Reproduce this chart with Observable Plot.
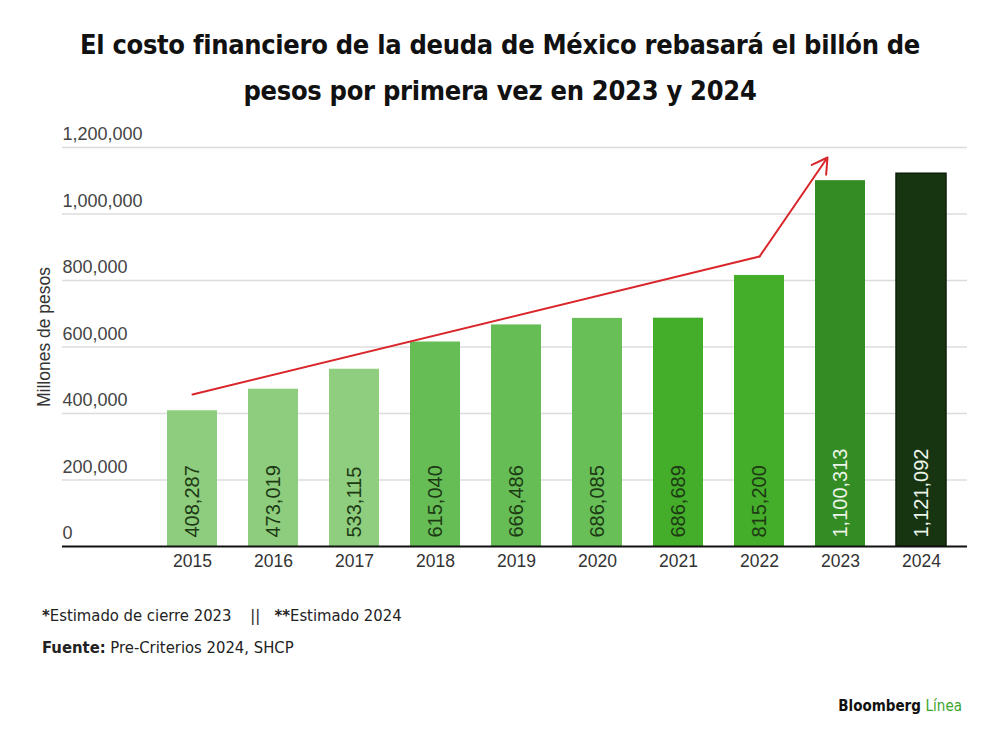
<!DOCTYPE html>
<html>
<head>
<meta charset="utf-8">
<script src="https://cdn.jsdelivr.net/npm/d3@7"></script>
<script src="https://cdn.jsdelivr.net/npm/@observablehq/plot@0.6"></script>
<style>
  html, body { margin: 0; padding: 0; background: #fff; width: 1000px; height: 745px; overflow: hidden; }
  body { position: relative; font-family: "Liberation Sans", Arial, sans-serif; }
  #title { position: absolute; left: 0; top: 22px; width: 1000px; text-align: center;
    font-family: "DejaVu Sans Condensed", "DejaVu Sans", sans-serif; font-stretch: condensed; font-weight: bold;
    font-size: 27px; line-height: 46px; color: #111; letter-spacing: -0.3px; }
  #chart { position: absolute; left: 0; top: 120px; }
  .foot { position: absolute; left: 42px; font-family: "DejaVu Sans Condensed", "DejaVu Sans", sans-serif; font-stretch: condensed;
    font-size: 16.5px; color: #222; }
  #note { top: 606px; }
  #src { top: 638px; }
  #logo { position: absolute; right: 38px; top: 697px; font-family: "DejaVu Sans Condensed", "DejaVu Sans", sans-serif; font-stretch: condensed;
    font-weight: bold; font-size: 15px; color: #111; }
  #logo span { color: #3aa52b; font-weight: normal; }
</style>
</head>
<body>
<div id="title">El costo financiero de la deuda de México rebasará el billón de<br>pesos por primera vez en 2023 y 2024</div>
<div id="chart"></div>
<div class="foot" id="note"><b>*</b>Estimado de cierre 2023 &nbsp;&nbsp; || &nbsp;&nbsp;<b>**</b>Estimado 2024</div>
<div class="foot" id="src"><b>Fuente:</b> Pre-Criterios 2024, SHCP</div>
<div id="logo">Bloomberg <span>Línea</span></div>
<script>
const years = ["2015","2016","2017","2018","2019","2020","2021","2022","2023","2024"];
const costs = [408287, 473019, 533115, 615040, 666486, 686085, 686689, 815200, 1100313, 1121092];
const barColors = ["#8dcd7d","#8dcd7d","#8fce7f","#66bd55","#66bd55","#68bf58","#44ad2a","#44ad2a","#348c24","#183512"];
const yTicks = [0, 200000, 400000, 600000, 800000, 1000000, 1200000];
const lightLabelYears = ["2023","2024"];
const trendYears = ["2015","2022"];
const trendValues = [457000, 872000];
const arrowFrom = {year: "2022", value: 872000};
const arrowTo = {year: "2023", value: 1227000};
const yLabel = "Millones de pesos";

const data = years.map((year, i) => ({year, value: costs[i]}));
const trend = trendYears.map((year, i) => ({year, value: trendValues[i]}));
const fmt = d3.format(",");

const chart = Plot.plot({
  width: 1000,
  height: 460,
  marginTop: 27,
  marginBottom: 34,
  marginLeft: 62,
  marginRight: 33,
  x: {domain: years, range: [165, 947], paddingInner: 0.385, paddingOuter: 0, label: null, axis: null},
  y: {domain: [0, 1200000], label: null, axis: null},
  color: {domain: years, range: barColors},
  style: {fontFamily: "Liberation Sans, Arial, sans-serif", background: "#fff"},
  marks: [
    Plot.ruleY(yTicks.filter(d => d > 0), {stroke: "#dcdcdc", strokeWidth: 1.5}),
    Plot.text(yTicks, {y: d => d, text: d => fmt(d), frameAnchor: "left", textAnchor: "start", dy: -13, fontSize: 18, fill: "#444"}),
    Plot.text([yLabel], {text: d => d, frameAnchor: "left", textAnchor: "middle", rotate: -90, dx: -18, dy: -10, fontSize: 17.5, fill: "#333"}),
    Plot.barY(data, {x: "year", y: "value", fill: "year"}),
    Plot.barY(data.filter(d => d.year === "2024"), {x: "year", y: "value", fill: "none", stroke: "#0d1f08", strokeWidth: 1.5}),
    Plot.text(data, {x: "year", y: 0, text: d => fmt(d.value), rotate: -90, textAnchor: "start", dy: -9, fontSize: 20,
      fill: d => lightLabelYears.includes(d.year) ? "#eef5ea" : "#1d3a14"}),
    Plot.ruleY([0], {stroke: "#111", strokeWidth: 2}),
    Plot.axisX({tickSize: 0, tickPadding: 8, fontSize: 17.5, color: "#333", label: null}),
    Plot.line(trend, {x: "year", y: "value", stroke: "#d9262b", strokeWidth: 2}),
    Plot.arrow([{from: arrowFrom, to: arrowTo}], {x1: d => d.from.year, y1: d => d.from.value, x2: d => d.to.year, y2: d => d.to.value,
      stroke: "#d9262b", strokeWidth: 2, headLength: 13, insetEnd: 23})
  ]
});
document.getElementById("chart").appendChild(chart);
</script>
</body>
</html>
